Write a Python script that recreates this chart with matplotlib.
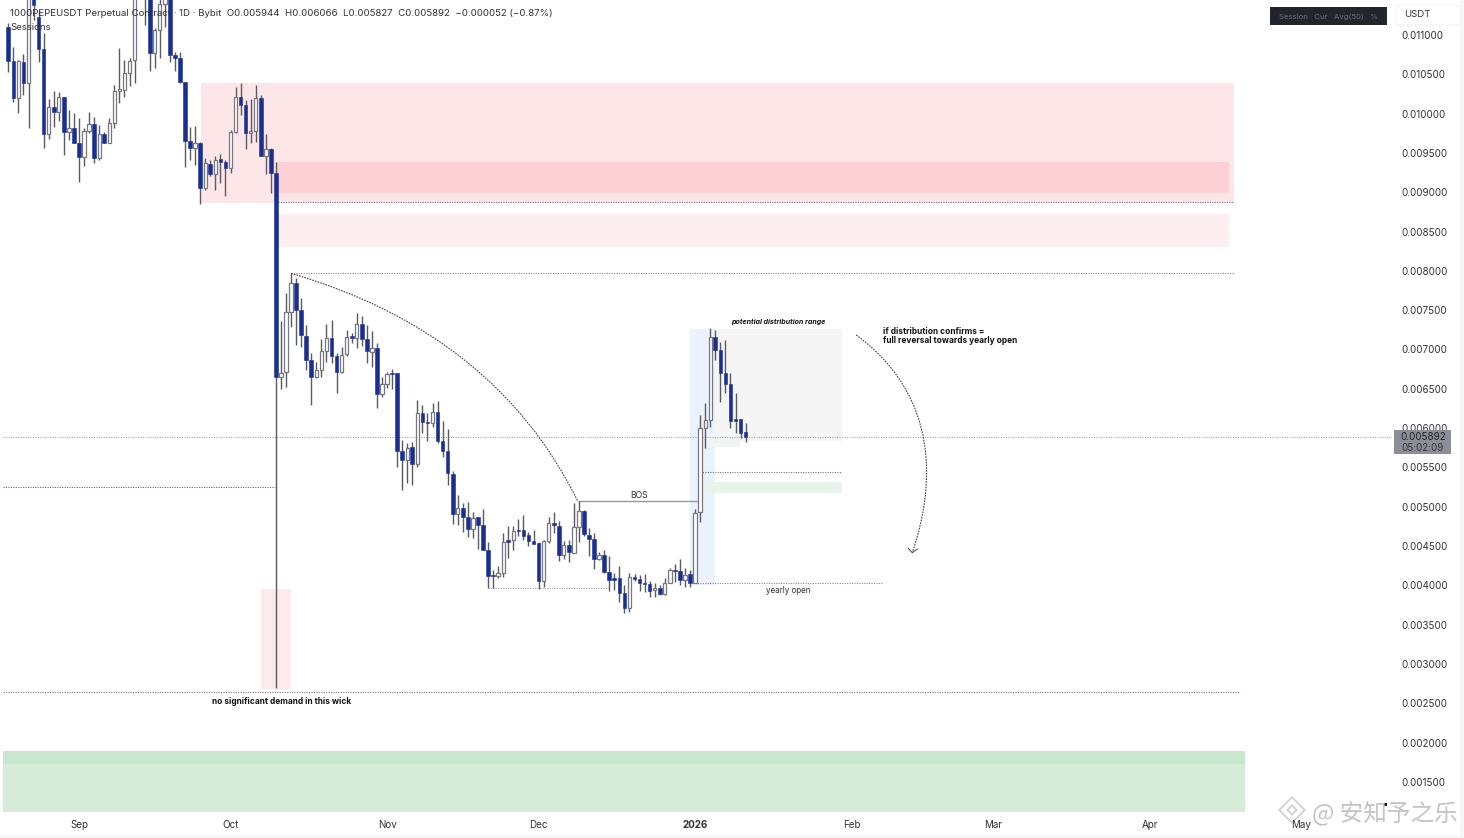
import matplotlib
matplotlib.use("Agg")
import matplotlib.pyplot as plt
import numpy as np
import pandas as pd
from matplotlib.patches import FancyBboxPatch, PathPatch, Polygon, Rectangle
from matplotlib.path import Path

W, H = 1464, 838
START_DATE = "2025-08-18"

# candles, prices in millionths of USDT
OPENS = [
    11106, 10669, 10194, 10661, 10393, 11699, 11233, 10822, 9740, 10080,
    10016, 10207, 9770, 9821, 9630, 9452, 9783, 9863, 9431, 9740,
    9630, 9876, 10292, 10300, 10512, 10682, 11530, 11900, 11530, 10767,
    11063, 11394, 11530, 10745, 10703, 10398, 9651, 9567, 9630, 9058,
    9359, 9232, 9418, 9380, 9312, 9770, 10207, 10109, 9749, 9783,
    10194, 9461, 9550, 9249, 6646, 6709, 7481, 7841, 7502, 7175,
    6866, 6646, 6739, 6985, 7150, 6917, 6713, 6942, 7167, 7150,
    7320, 7129, 6972, 7023, 6429, 6556, 6696, 6696, 5713, 5594,
    5755, 5539, 6196, 6082, 6060, 6209, 5836, 5713, 5416, 4903,
    4979, 4865, 4716, 4865, 4763, 4449, 4127, 4123, 4161, 4572,
    4576, 4708, 4708, 4636, 4559, 4534, 4055, 4559, 4797, 4759,
    4385, 4508, 4415, 4746, 4945, 4644, 4593, 4330, 4381, 4165,
    4093, 4093, 3898, 3716, 4110, 4076, 4029, 4017, 3940, 3970,
    3894, 4025, 4190, 4178, 4067, 4139, 4034, 4928, 5997, 6103,
    7163, 6993, 6705, 6561, 6111, 6111, 5944,
]
HIGHS = [
    11148, 10851, 10682, 10758, 11699, 11784, 11318, 11021, 10186, 10292,
    10271, 10207, 10046, 10003, 9940, 9813, 10025, 9961, 9855, 9770,
    9940, 10364, 10830, 10682, 10703, 11615, 12000, 12000, 11657, 11085,
    11487, 11699, 11699, 10788, 10788, 10406, 9834, 9842, 9643, 9431,
    9410, 9461, 9486, 9410, 9791, 10334, 10393, 10173, 10181, 10364,
    10237, 9736, 9558, 9389, 7366, 7714, 7968, 7905, 7650, 7311,
    6951, 6845, 7133, 7320, 7375, 6959, 7027, 7248, 7205, 7460,
    7426, 7311, 7235, 7086, 6654, 6718, 6747, 6705, 5848, 5814,
    5827, 6357, 6294, 6188, 6323, 6344, 6090, 5988, 5458, 5149,
    5051, 5064, 4937, 4873, 4966, 4546, 4195, 4250, 4661, 4754,
    4754, 4843, 4894, 4682, 4699, 4555, 4576, 4873, 4937, 4822,
    4568, 4576, 5043, 5072, 4958, 4725, 4661, 4428, 4449, 4377,
    4152, 4250, 4004, 4161, 4144, 4131, 4144, 4059, 4025, 4004,
    4089, 4216, 4271, 4330, 4216, 4195, 4966, 6166, 6315, 7269,
    7248, 7099, 7120, 6705, 6442, 6111, 6066,
]
LOWS = [
    10533, 10152, 10012, 10237, 9813, 11191, 10652, 9558, 9673, 9834,
    9910, 9473, 9664, 9622, 9134, 9338, 9749, 9367, 9410, 9622,
    9622, 9813, 10131, 10207, 10351, 10385, 11500, 11127, 10546, 10576,
    10703, 11106, 10661, 10542, 10385, 9325, 9410, 9346, 8850, 9028,
    9206, 9028, 9113, 8952, 9240, 9749, 9982, 9550, 9622, 9643,
    9461, 9232, 8986, 2694, 6493, 6527, 7290, 7057, 7027, 6739,
    6294, 6633, 6654, 6836, 6832, 6442, 6705, 6917, 7078, 7014,
    7044, 6824, 6781, 6260, 6400, 6506, 6493, 5501, 5212, 5306,
    5276, 5509, 5942, 5836, 6018, 5814, 5636, 5276, 4780, 4767,
    4682, 4619, 4606, 4462, 4449, 3961, 3961, 4089, 4110, 4343,
    4449, 4627, 4576, 4504, 4525, 3953, 3983, 4542, 4661, 4309,
    4330, 4292, 4407, 4555, 4627, 4377, 4207, 4322, 4152, 3927,
    3940, 3792, 3643, 3665, 4059, 3927, 3911, 3855, 3847, 3877,
    3877, 4025, 4046, 4004, 3983, 3974, 4025, 4810, 5742, 6018,
    6866, 6336, 6450, 5997, 5942, 5870, 5827,
]
CLOSES = [
    10669, 10194, 10669, 10393, 11572, 11381, 10822, 9740, 10080, 10016,
    10207, 9770, 9821, 9630, 9452, 9779, 9863, 9439, 9740, 9630,
    9876, 10292, 10309, 10512, 10673, 11530, 11900, 11600, 10767, 11063,
    11394, 11572, 10745, 10703, 10398, 9651, 9567, 9622, 9058, 9367,
    9232, 9410, 9389, 9312, 9770, 10207, 10109, 9757, 9783, 10194,
    9461, 9550, 9249, 6650, 6705, 7481, 7841, 7502, 7184, 6866,
    6646, 6739, 6985, 7150, 6917, 6713, 6934, 7163, 7150, 7320,
    7129, 6980, 7023, 6429, 6556, 6684, 6688, 5713, 5594, 5751,
    5539, 6196, 6082, 6060, 6209, 5836, 5713, 5424, 4903, 4979,
    4865, 4716, 4860, 4763, 4449, 4123, 4123, 4161, 4555, 4555,
    4695, 4695, 4627, 4559, 4530, 4055, 4559, 4797, 4763, 4385,
    4508, 4419, 4746, 4945, 4648, 4593, 4330, 4381, 4173, 4067,
    4067, 3898, 3716, 4110, 4076, 4025, 4021, 3932, 3970, 3889,
    4025, 4190, 4178, 4067, 4135, 4034, 4915, 5997, 6103, 7163,
    6993, 6705, 6561, 6090, 6090, 5942, 5892,
]

MONTH_DATES = ["2025-09-01", "2025-10-01", "2025-11-01", "2025-12-01", "2026-01-01",
               "2026-02-01", "2026-03-01", "2026-04-01", "2026-05-01"]
MONTH_LABELS = ["Sep", "Oct", "Nov", "Dec", "2026", "Feb", "Mar", "Apr", "May"]
PRICE_TICKS = [1500, 2000, 2500, 3000, 3500, 4000, 4500, 5000, 5500,
               6000, 6500, 7000, 7500, 8000, 8500, 9000, 9500, 10000, 10500, 11000]

# x0, x1 in bars, low, high in millionths, colour
ZONES = [
    (38.1, 242.7, 8863, 10389, "#fde6e8"),
    (53.0, 241.7, 8990, 9385, "#fcd0d5"),
    (53.4, 241.7, 8303, 8723, "#fdeeef"),
    (50.0, 56.0, 2681, 3953, "#fcebeb"),
    (-1.1, 244.9, 1117, 1892, "#d6ecd9"),
    (-1.1, 244.9, 1727, 1892, "#c9e6ce"),
    (135.0, 140.0, 4004, 7260, "#ecf2fd"),
    (140.0, 165.0, 5836, 7260, "#f5f5f5"),
    (138.4, 144.9, 5760, 5874, "#eff6f0"),
    (137.6, 165.0, 5174, 5314, "#e8f3ea"),
]
# price, x0, x1, colour
LEVELS = [
    (8876, 53.4, 242.7, "#77777f"),
    (7973, 56.0, 242.7, "#8a8a8a"),
    (5892, -1.1, 274.0, "#a8a8a8"),
    (5244, -1.1, 52.8, "#666666"),
    (2643, -1.1, 243.9, "#777777"),
    (5435, 137.0, 165.0, "#777777"),
    (4034, 136.0, 173.0, "#888888"),
    (3965, 95.0, 118.8, "#999999"),
]

BEAR = "#1b2f8e"
WICK = "#5a5a60"
EDGE = "#777780"
TEXT = "#2f3136"

plt.rcParams["font.family"] = ["Inter", "DejaVu Sans"]


def fig_box(x, y, w, h):
    # pixel box, y from the top, in figure fractions
    return x / W, 1 - (y + h) / H, w / W, h / H


def add_px_rect(fig, x, y, w, h, color, zorder=5):
    x0, y0, fw, fh = fig_box(x, y, w, h)
    fig.add_artist(Rectangle((x0, y0), fw, fh, transform=fig.transFigure,
                             facecolor=color, edgecolor="none", zorder=zorder))


def draw_candles(ax):
    xs = np.arange(len(OPENS))
    opens = np.array(OPENS) * 1e-6
    highs = np.array(HIGHS) * 1e-6
    lows = np.array(LOWS) * 1e-6
    closes = np.array(CLOSES) * 1e-6
    ax.vlines(xs, lows, highs, color=WICK, lw=1.0, zorder=3)

    down = closes < opens
    ax.bar(xs[down], (opens - closes)[down], bottom=closes[down], width=0.72,
           color=BEAR, edgecolor=BEAR, lw=0.4, zorder=4)
    ax.bar(xs[~down], (closes - opens)[~down], bottom=opens[~down], width=0.66,
           color="white", edgecolor=EDGE, lw=0.9, zorder=4)


def draw_zones(ax):
    for x0, x1, low, high, color in ZONES:
        ax.add_patch(Rectangle((x0, low * 1e-6), x1 - x0, (high - low) * 1e-6,
                               facecolor=color, edgecolor="none", zorder=1))
    for price, x0, x1, color in LEVELS:
        ax.hlines(price * 1e-6, x0, x1, color=color, lw=0.8, ls=(0, (1, 1.2)), zorder=2)
    ax.hlines(5066e-6, 112.8, 137.0, color="#9a9a9a", lw=1.0, zorder=2)


def draw_curves(ax):
    arc = Path([(56.0, 7968e-6), (96.4, 7209e-6), (112.8, 5066e-6)],
               [Path.MOVETO, Path.CURVE3, Path.CURVE3])
    ax.add_patch(PathPatch(arc, fc="none", ec="#444444", lw=0.8, ls=(0, (1.5, 1)), zorder=3))

    drop = Path([(167.9, 7184e-6), (184.5, 6400e-6), (183.5, 5260e-6), (179.0, 4415e-6)],
                [Path.MOVETO, Path.CURVE4, Path.CURVE4, Path.CURVE4])
    ax.add_patch(PathPatch(drop, fc="none", ec="#444444", lw=0.8, ls=(0, (1.5, 1)), zorder=3))
    ax.plot([178.2, 179.0, 180.0], [4470e-6, 4415e-6, 4460e-6], color="#444444", lw=0.7, zorder=3)


def draw_notes(ax):
    ax.text(143.1, 7350e-6, "potential distribution range", fontsize=5.1, fontweight="bold",
            fontstyle="italic", color="#111111", va="center", zorder=6)
    ax.text(173.2, 7170e-6, "if distribution confirms =\nfull reversal towards yearly open",
            fontsize=6.0, fontweight="bold", color="#111111", va="center", linespacing=0.95, zorder=6)
    ax.text(40.3, 2528e-6, "no significant demand in this wick", fontsize=6.0, fontweight="bold",
            color="#111111", va="center", zorder=6)
    ax.text(124.9, 5136e-6, "BOS", fontsize=6.2, color=TEXT, ha="center", va="center", zorder=6)
    ax.text(154.4, 3940e-6, "yearly open", fontsize=5.8, color=TEXT, ha="center", va="center", zorder=6)


def draw_overlay(fig):
    fig.text(10 / W, 1 - 13.5 / H,
             "1000PEPEUSDT Perpetual Contract · 1D · Bybit  O0.005944  H0.006066  "
             "L0.005827  C0.005892  −0.000052 (−0.87%)",
             fontsize=6.95, color=TEXT, va="center", zorder=7)
    fig.text(10 / W, 1 - 27 / H, "Sessions", fontsize=6.95, color=TEXT, va="center", zorder=7)

    # session table header and currency button
    add_px_rect(fig, 1270, 7, 117, 18, "#23252d")
    fig.text(1328 / W, 1 - 16.5 / H, "Session   Cur   Avg(50)   %", fontsize=5.6, color="#6c6e76",
             ha="center", va="center", zorder=7)
    x0, y0, fw, fh = fig_box(1396, 5, 64, 20)
    fig.add_artist(FancyBboxPatch((x0, y0), fw, fh, boxstyle="round,pad=0,rounding_size=0.003",
                                  transform=fig.transFigure, facecolor="white",
                                  edgecolor="#f1f1f3", lw=0.8, zorder=5))
    fig.text(1404 / W, 1 - 14.5 / H, "USDT", fontsize=6.9, color=TEXT, va="center", zorder=7)

    # last price tag sits over the 0.006000 tick
    add_px_rect(fig, 1394, 430, 57, 24, "#8e8e98", zorder=6)
    fig.text(1423 / W, 1 - 436.5 / H, "0.005892", fontsize=7.1, color="#222228",
             ha="center", va="center", zorder=7)
    fig.text(1423 / W, 1 - 447.5 / H, "05:02:09", fontsize=7.0, color="#33333a",
             ha="center", va="center", zorder=7)

    # watermark, logo stays under the axis labels
    fig.text(1312 / W, 1 - 813 / H, "@ 安知予之乐", fontsize=17, color="#c4c4c4",
             family=["Noto Sans CJK SC", "DejaVu Sans"], va="center", zorder=7)
    for r, fc in ((14, "#d2d2d2"), (11.5, "white"), (6, "#d4d4d4"), (3, "white")):
        pts = [(1292 + r, 810), (1292, 810 - r), (1292 - r, 810), (1292, 810 + r)]
        fig.add_artist(Polygon([(x / W, 1 - y / H) for x, y in pts], transform=fig.transFigure,
                               facecolor=fc, edgecolor="none", zorder=-1))
    add_px_rect(fig, 1384, 803, 3, 3, "#111111", zorder=7)

    # edge of the screenshot
    add_px_rect(fig, 1460, 0, 4, H, "#f6f6f8", zorder=8)
    add_px_rect(fig, 0, 835, W, 3, "#f6f6f8", zorder=8)


def main():
    fig = plt.figure(figsize=(W / 100, H / 100), dpi=100, facecolor="white")
    ax = fig.add_axes(fig_box(3, 0, 1389, 815))
    ax.patch.set_visible(False)
    ax.set_xlim(-1.05, 274)
    ax.set_ylim(1078e-6, 11445e-6)
    for spine in ax.spines.values():
        spine.set_visible(False)

    draw_zones(ax)
    draw_candles(ax)
    draw_curves(ax)
    draw_notes(ax)

    start = pd.Timestamp(START_DATE)
    ax.set_xticks([(pd.Timestamp(d) - start).days for d in MONTH_DATES])
    ax.set_xticklabels(MONTH_LABELS, fontsize=7.1, color=TEXT)
    ax.get_xticklabels()[4].set_fontweight("bold")
    ax.tick_params(axis="x", length=0, pad=3.5)

    ax.yaxis.tick_right()
    ax.set_yticks([p * 1e-6 for p in PRICE_TICKS])
    ax.set_yticklabels([f"{p * 1e-6:.6f}" for p in PRICE_TICKS], fontsize=7.1, color=TEXT)
    ax.tick_params(axis="y", length=0, pad=6.5)

    draw_overlay(fig)
    fig.savefig("out.png", dpi=100)
    plt.close(fig)


if __name__ == "__main__":
    main()
